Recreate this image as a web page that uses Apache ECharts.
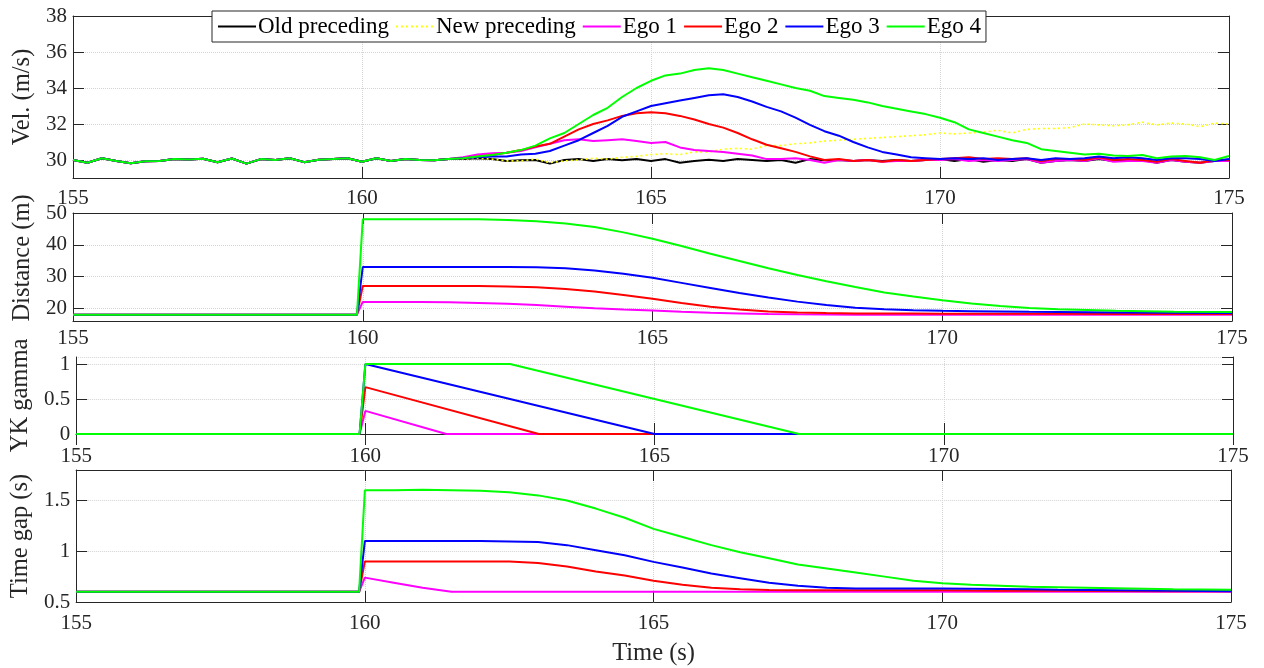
<!DOCTYPE html>
<html>
<head>
<meta charset="utf-8">
<script src="https://cdn.jsdelivr.net/npm/echarts@6/dist/echarts.min.js"></script>
<style>
html,body{margin:0;padding:0;background:#fff;}
#chart{width:1264px;height:668px;}
</style>
</head>
<body>
<div id="chart"></div>
<script>
// ---------- DATA ----------
const seriesNames = ['Old preceding','New preceding','Ego 1','Ego 2','Ego 3','Ego 4'];
const xTicks = [155,160,165,170,175];

// velocity panel: time grid (s)
const velTime = [155,155.25,155.5,155.75,156,156.25,156.5,156.75,157,157.25,157.5,157.75,158,158.25,158.5,158.75,159,159.25,159.5,159.75,160,160.25,160.5,160.75,161,161.25,161.5,
161.75,162,162.25,162.5,162.75,163,163.25,163.5,163.75,164,164.25,164.5,164.75,165,165.25,165.5,165.75,166,166.25,166.5,166.75,167,167.25,167.5,167.75,168,168.25,168.5,168.75,169,169.25,169.5,169.75,170,170.25,170.5,170.75,171,171.25,171.5,171.75,172,172.25,172.5,172.75,173,173.25,173.5,173.75,174,174.25,174.5,174.75,175];
// shared velocity before the manoeuvre (155 .. 161.5 s)
const velCommon = [30.0,29.85,30.1,29.95,29.82,29.93,29.95,30.05,30.03,30.07,29.87,30.08,29.8,30.05,30.0,30.1,29.88,30.02,30.05,30.1,29.9,30.1,29.95,30.05,30.0,29.98,30.05];
// velocity 161.75 .. 175 s
const velOld = [30.05,30.1,30.05,29.95,29.98,30.0,29.8,30.0,30.05,29.95,
30.05,29.98,30.05,29.95,30.05,29.85,29.95,30.02,29.95,30.05,
30.0,29.95,30.0,29.85,30.05,29.98,30.0,29.95,30.0,29.95,
30.0,29.95,30.0,30.05,29.95,30.05,29.9,30.0,29.95,30.05,
29.85,29.95,30.0,29.95,30.05,29.95,30.0,30.0,29.85,30.0,
29.9,29.85,29.95,29.95];
const velNew = [30.05,30.1,30.05,29.95,29.95,30.05,29.85,29.95,30.0,30.1,
30.05,30.15,30.2,30.3,30.35,30.3,30.45,30.45,30.6,30.65,
30.6,30.8,30.8,30.9,30.95,31.05,31.1,31.15,31.2,31.25,
31.3,31.35,31.4,31.5,31.45,31.5,31.55,31.65,31.5,31.7,
31.75,31.75,31.8,32.0,31.95,31.9,31.95,32.1,31.95,32.05,
32.0,31.85,32.05,32.0];
const velEgo1 = [30.15,30.3,30.38,30.4,30.5,30.7,30.9,31.1,31.15,31.05,
31.1,31.15,31.05,30.95,31.0,30.7,30.55,30.5,30.45,30.35,
30.25,30.05,30.05,30.1,30.0,29.85,30.0,29.95,30.0,29.9,
29.95,29.95,30.0,30.0,30.05,29.95,30.0,29.95,30.0,30.05,
29.85,29.95,30.0,29.95,30.1,29.9,29.95,29.95,29.85,30.0,
29.9,29.85,29.95,29.95];
const velEgo2 = [30.1,30.2,30.28,30.4,30.55,30.75,30.9,31.3,31.7,32.0,
32.2,32.45,32.6,32.65,32.6,32.45,32.25,32.0,31.8,31.5,
31.15,30.85,30.65,30.45,30.2,30.0,30.05,29.95,30.0,29.9,
30.0,29.95,30.0,30.05,30.1,30.15,30.05,30.1,30.05,30.1,
29.95,30.05,30.05,30.0,30.15,30.0,30.05,30.0,29.9,30.05,
29.95,29.85,30.0,30.0];
const velEgo3 = [30.1,30.15,30.2,30.2,30.3,30.35,30.5,30.8,31.1,31.5,
31.9,32.4,32.7,33.0,33.15,33.3,33.45,33.6,33.65,33.5,
33.25,32.95,32.7,32.35,31.95,31.6,31.35,31.0,30.7,30.45,
30.3,30.15,30.1,30.05,30.1,30.05,30.1,30.0,30.05,30.1,
30.0,30.1,30.05,30.1,30.2,30.1,30.15,30.1,30.0,30.1,
30.1,30.05,29.95,30.05];
const velEgo4 = [30.1,30.2,30.28,30.4,30.55,30.8,31.2,31.5,32.0,32.5,
32.9,33.5,34.0,34.4,34.7,34.8,35.0,35.1,35.0,34.8,
34.6,34.4,34.2,34.0,33.85,33.55,33.45,33.35,33.2,33.0,
32.85,32.7,32.55,32.35,32.1,31.7,31.5,31.3,31.1,30.95,
30.6,30.5,30.4,30.3,30.35,30.25,30.22,30.28,30.1,30.2,
30.22,30.15,30.0,30.22];

// distance / time gap panels: time grid (s)
const gapTime = [155,159.9,160,160.5,161,161.5,162,162.5,163,163.5,164,164.5,165,165.5,166,166.5,167,167.5,168,168.5,169,169.5,170,170.5,171,171.5,172,173,174,175];
const distEgo1 = [18,18,22,22,22,21.9,21.7,21.4,21.0,20.5,20.0,19.6,19.3,18.9,18.6,18.4,18.2,18.1,18.05,18,18,18,18,18,18,18,18,18,18,18];
const distEgo2 = [18,18,27,27,27,27,27,26.9,26.6,26.1,25.3,24.2,23.0,21.7,20.5,19.6,19.0,18.7,18.5,18.4,18.4,18.35,18.3,18.3,18.3,18.25,18.25,18.2,18.2,18.2];
const distEgo3 = [18,18,33,33,33,33,33,33,32.9,32.6,31.9,30.9,29.6,28.0,26.4,24.8,23.4,22.1,21.0,20.2,19.7,19.4,19.2,19.1,19.0,18.9,18.85,18.7,18.6,18.5];
const distEgo4 = [18,18,48,48,48,48,48,47.8,47.4,46.7,45.6,43.9,41.9,39.6,37.2,34.9,32.6,30.5,28.5,26.7,25.0,23.7,22.5,21.5,20.7,20.1,19.7,19.2,18.9,18.8];

const gapEgo1 = [0.6,0.6,0.74,0.69,0.64,0.6,0.6,0.6,0.6,0.6,0.6,0.6,0.6,0.6,0.6,0.6,0.6,0.6,0.6,0.6,0.6,0.6,0.6,0.6,0.6,0.6,0.6,0.6,0.6,0.6];
const gapEgo2 = [0.6,0.6,0.9,0.9,0.9,0.9,0.9,0.9,0.885,0.85,0.8,0.76,0.71,0.67,0.64,0.625,0.618,0.615,0.615,0.615,0.615,0.615,0.615,0.613,0.612,0.61,0.61,0.608,0.606,0.605];
const gapEgo3 = [0.6,0.6,1.1,1.1,1.1,1.1,1.1,1.095,1.09,1.06,1.01,0.96,0.895,0.84,0.78,0.735,0.69,0.66,0.64,0.633,0.633,0.632,0.632,0.63,0.628,0.625,0.62,0.615,0.61,0.605];
const gapEgo4 = [0.6,0.6,1.6,1.6,1.605,1.6,1.595,1.58,1.55,1.5,1.42,1.33,1.22,1.14,1.06,0.99,0.93,0.87,0.83,0.79,0.75,0.71,0.685,0.67,0.66,0.65,0.645,0.635,0.625,0.62];

// YK gamma (piecewise linear breakpoints)
const gammaTime1 = [155,159.9,160,161.4,175];
const gammaEgo1  = [0,0,0.33,0,0];
const gammaTime2 = [155,159.9,160,163.0,175];
const gammaEgo2  = [0,0,0.67,0,0];
const gammaTime3 = [155,159.9,160,165.0,175];
const gammaEgo3  = [0,0,1,0,0];
const gammaTime4 = [155,159.9,160,162.5,167.5,175];
const gammaEgo4  = [0,0,1,1,0,0];

// ---------- CHART ----------
const FONT = 'Liberation Serif';
const TXT = '#262626';
const colors = {'Old preceding':'#000000','New preceding':'#ffff00','Ego 1':'#ff00ff','Ego 2':'#ff0000','Ego 3':'#0000ff','Ego 4':'#00ff00'};

const pair = (t, v) => t.map((x, i) => [x, v[i]]);

const grids = [
  {left:73, top:16, width:1156, height:162},
  {left:73, top:213, width:1159, height:108},
  {left:73, top:357, width:1160, height:77},
  {left:73, top:470, width:1158, height:132}
];
const xLabelMargin = [10, 7, 12, 11];

const xAxes = [];
const yAxes = [];
const tickStyle = {inside:true, length:11, lineStyle:{color:TXT, width:1}};
const lineSty = {show:true, lineStyle:{color:TXT, width:1}};
const splitSty = {show:true, lineStyle:{color:'#d4d4d4', type:'dotted', width:1}};
const lbl = {fontFamily:FONT, fontSize:21, color:TXT};
const nameSty = {fontFamily:FONT, fontSize:24.5, color:TXT};

for (let i = 0; i < 4; i++) {
  xAxes.push({
    type:'value', gridIndex:i, min:155, max:175, interval:5, position:'bottom',
    axisLine:lineSty, axisTick:tickStyle, splitLine:splitSty,
    axisLabel:Object.assign({margin:xLabelMargin[i]}, lbl),
    name: i === 3 ? 'Time (s)' : '', nameLocation:'middle', nameGap:39,
    nameTextStyle:nameSty
  });
}
for (let i = 0; i < 4; i++) {
  xAxes.push({
    type:'value', gridIndex:i, min:155, max:175, interval:5, position:'top',
    axisLine:lineSty, axisTick:tickStyle, splitLine:{show:false}, axisLabel:{show:false}
  });
}
const yCfg = [
  {min:29, max:38, splitNumber:5, name:'Vel. (m/s)', gap:34, showMin:false, showMax:true, pad:[0,0,0,0]},
  {min:16, max:50, splitNumber:3, name:'Distance (m)', gap:38, showMin:false, showMax:true, pad:[0,0,0,18]},
  {min:0, max:1.1, interval:0.5, name:'YK gamma', gap:38, showMin:true, showMax:false, pad:[0,0,0,0]},
  {min:0.5, max:1.8, interval:0.5, name:'Time gap (s)', gap:39, showMin:true, showMax:false, pad:[0,0,0,0]}
];
yCfg.forEach((c, i) => {
  const base = {type:'value', gridIndex:i, min:c.min, max:c.max};
  if (c.interval) base.interval = c.interval; else base.splitNumber = c.splitNumber;
  yAxes.push(Object.assign({}, base, {
    position:'left', axisLine:lineSty, axisTick:tickStyle, splitLine:splitSty,
    axisLabel:Object.assign({margin:6, showMinLabel:c.showMin, showMaxLabel:c.showMax}, lbl),
    name:c.name, nameLocation:'middle', nameGap:c.gap,
    nameTextStyle:Object.assign({padding:c.pad}, nameSty)
  }));
});
yCfg.forEach((c, i) => {
  const base = {type:'value', gridIndex:i, min:c.min, max:c.max};
  if (c.interval) base.interval = c.interval; else base.splitNumber = c.splitNumber;
  yAxes.push(Object.assign({}, base, {
    position:'right', axisLine:lineSty, axisTick:tickStyle, splitLine:{show:false}, axisLabel:{show:false}
  }));
});

function line(name, data, idx, extra) {
  return Object.assign({
    type:'line', name:name, data:data, xAxisIndex:idx, yAxisIndex:idx,
    symbol:'none', showSymbol:false, smooth:false, animation:false,
    lineStyle:{color:colors[name], width:2},
    itemStyle:{color:colors[name]}
  }, extra || {});
}

const velFull = arr => velCommon.concat(arr);
const series = [
  line('Old preceding', pair(velTime, velFull(velOld)), 0),
  line('New preceding', pair(velTime, velFull(velNew)), 0, {lineStyle:{color:colors['New preceding'], width:1.6, type:[2,3]}}),
  line('Ego 1', pair(velTime, velFull(velEgo1)), 0),
  line('Ego 2', pair(velTime, velFull(velEgo2)), 0),
  line('Ego 3', pair(velTime, velFull(velEgo3)), 0),
  line('Ego 4', pair(velTime, velFull(velEgo4)), 0),

  line('Ego 1', pair(gapTime, distEgo1), 1),
  line('Ego 2', pair(gapTime, distEgo2), 1),
  line('Ego 3', pair(gapTime, distEgo3), 1),
  line('Ego 4', pair(gapTime, distEgo4), 1),

  line('Ego 1', pair(gammaTime1, gammaEgo1), 2),
  line('Ego 2', pair(gammaTime2, gammaEgo2), 2),
  line('Ego 3', pair(gammaTime3, gammaEgo3), 2),
  line('Ego 4', pair(gammaTime4, gammaEgo4), 2),

  line('Ego 1', pair(gapTime, gapEgo1), 3),
  line('Ego 2', pair(gapTime, gapEgo2), 3),
  line('Ego 3', pair(gapTime, gapEgo3), 3),
  line('Ego 4', pair(gapTime, gapEgo4), 3)
];

const chart = echarts.init(document.getElementById('chart'), null, {renderer:'canvas'});
chart.setOption({
  animation:false,
  backgroundColor:'#ffffff',
  grid:grids.map(g => Object.assign({show:false, containLabel:false}, g)),
  xAxis:xAxes,
  yAxis:yAxes,
  legend:{
    data:seriesNames, left:212, top:11, orient:'horizontal',
    itemWidth:38, itemHeight:14, itemGap:6,
    padding:[4,5,4,5],
    itemStyle:{opacity:0},
    backgroundColor:'#ffffff', borderColor:TXT, borderWidth:1, borderRadius:0,
    textStyle:{fontFamily:FONT, fontSize:23, color:'#000', padding:[0,0,0,-3]},
    selectedMode:false
  },
  series:series
});
</script>
</body>
</html>
